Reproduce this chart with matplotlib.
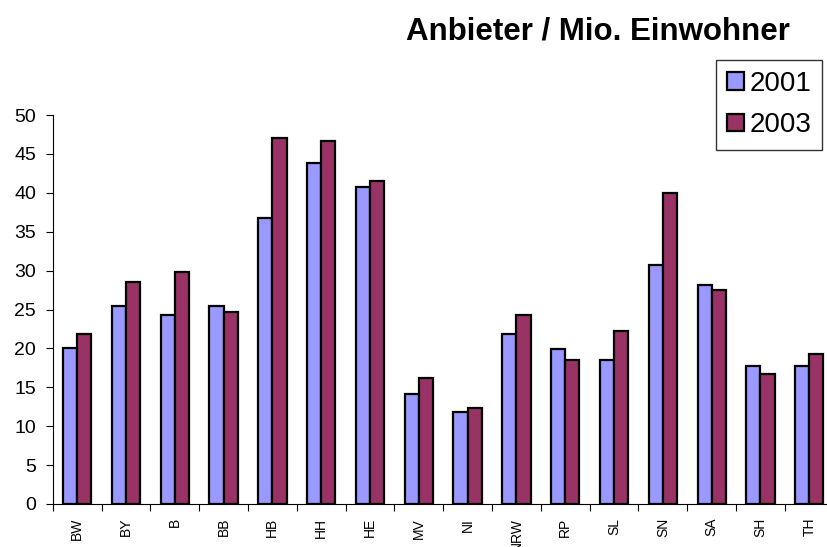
import matplotlib
matplotlib.use("Agg")
import matplotlib.pyplot as plt
import numpy as np

plt.rcParams['font.family'] = ['Liberation Sans', 'DejaVu Sans']

categories = ["BW", "BY", "B", "BB", "HB", "HH", "HE", "MV", "NI", "NRW", "RP", "SL", "SN", "SA", "SH", "TH"]
values_2001 = [20.0, 25.4, 24.3, 25.4, 36.7, 43.8, 40.7, 14.1, 11.8, 21.8, 19.9, 18.5, 30.7, 28.2, 17.7, 17.7]
values_2003 = [21.8, 28.5, 29.8, 24.7, 47.0, 46.7, 41.5, 16.2, 12.3, 24.3, 18.5, 22.2, 40.0, 27.5, 16.7, 19.3]
series_labels = ["2001", "2003"]
yticks = [0, 5, 10, 15, 20, 25, 30, 35, 40, 45, 50]

W, H = 827, 547
fig = plt.figure(figsize=(W / 100, H / 100), dpi=100)
ax = fig.add_axes([52.7 / W, (H - 504) / H, 781 / W, 389 / H])

x = np.arange(len(categories))
bw = 0.29
ax.bar(x - bw / 2, values_2001, bw, color="#9999FF", edgecolor="black", linewidth=1.6, label=series_labels[0])
ax.bar(x + bw / 2, values_2003, bw, color="#993366", edgecolor="black", linewidth=1.6, label=series_labels[1])

ax.set_xlim(-0.5, len(categories) - 0.5)
ax.set_ylim(0, 50)
ax.set_yticks(yticks)
ax.tick_params(axis='y', labelsize=14, length=5, width=0.8, pad=7, direction='out')
ax.set_xticks(x)
ax.set_xticklabels(categories, rotation=90, fontsize=10, va='top', ha='center')
ax.tick_params(axis='x', which='major', length=0, pad=10)
ax.set_xticks(np.arange(len(categories) + 1) - 0.5, minor=True)
ax.tick_params(axis='x', which='minor', length=5, width=0.8, direction='out')
for s in ['top', 'right']:
    ax.spines[s].set_visible(False)
ax.spines['left'].set_linewidth(0.8)
ax.spines['bottom'].set_linewidth(0.8)

fig.text(598 / W, 1 - 32 / H, "Anbieter / Mio. Einwohner", ha='center', va='center', fontsize=22.5, fontweight='bold')

leg = ax.legend(loc='upper left', bbox_to_anchor=(716 / W, 1 - 60 / H), bbox_transform=fig.transFigure,
                fontsize=20, frameon=True, fancybox=False, edgecolor='black', handlelength=0.6, handleheight=0.6,
                handletextpad=0.2, borderpad=0.4, labelspacing=0.55, borderaxespad=0)
leg.get_frame().set_linewidth(1.0)

fig.savefig("out.png", dpi=100)
